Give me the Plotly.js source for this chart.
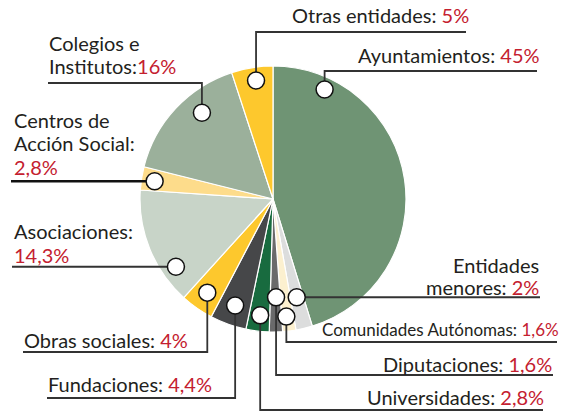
<!DOCTYPE html>
<html>
<head>
<meta charset="utf-8">
<script src="https://cdn.plot.ly/plotly-3.0.1.min.js"></script>
<style>
  html, body { margin: 0; padding: 0; background: #fff; }
  #chart { width: 569px; height: 412px; }
</style>
</head>
<body>
<div id="chart"></div>
<script>
// slices, clockwise from 12 o'clock
const names = ["Ayuntamientos", "Entidades menores", "Comunidades Autónomas", "Diputaciones",
  "Universidades", "Fundaciones", "Obras sociales", "Asociaciones",
  "Centros de Acción Social", "Colegios e Institutos", "Otras entidades"];
const values = [45, 2, 1.6, 1.6, 2.8, 4.4, 4, 14.3, 2.8, 16, 5];
const pctLabels = ["45%", "2%", "1,6%", "1,6%", "2,8%", "4,4%", "4%", "14,3%", "2,8%", "16%", "5%"];
const colors = ["#6f9474", "#dcdddd", "#fcf0cf", "#6a6a6b", "#186b3f", "#464749",
  "#fdc82d", "#c8d4c8", "#fddc8b", "#9bb09b", "#fdc82d"];

const W = 569, H = 412;
const cx = 273, cy = 199, R = 133;
const RED = "#c4202f", INK = "#231f20", LINE = "#333333";

// where each callout dot sits: fraction along the slice, fraction of radius
const dotAt = [[0.155, 0.91], [0.5, 0.76], [0.6, 0.89], [0.41, 0.74], [0.46, 0.88], [0.49, 0.85],
  [0.51, 0.86], [0.25, 0.89], [0.46, 0.9], [0.63, 0.84], [0.55, 0.9]];

// label layout: text lines (last gets the red value), anchor x, baselines, leader elbow
const labels = [
  { lines: ["Ayuntamientos: "], x: 541, ys: [62], align: "right", elbow: 71, endX: 537 },
  { lines: ["Entidades", "menores: "], x: 540, ys: [272, 294], align: "right", endX: 540 },
  { lines: ["Comunidades Autónomas: "], x: 560, ys: [336], align: "right", elbow: 342, endX: 557, size: 17 },
  { lines: ["Diputaciones: "], x: 553, ys: [371], align: "right", elbow: 375, endX: 553 },
  { lines: ["Universidades: "], x: 545, ys: [404], align: "right", elbow: 410, endX: 543 },
  { lines: ["Fundaciones: "], x: 47, ys: [391], align: "left", elbow: 398, endX: 47 },
  { lines: ["Obras sociales: "], x: 23, ys: [347], align: "left", elbow: 352, endX: 23 },
  { lines: ["Asociaciones:", ""], x: 13, ys: [238, 262], align: "left", endX: 12 },
  { lines: ["Centros de", "Acción Social:", ""], x: 13, ys: [127, 150, 174], align: "left", endX: 11, thick: true },
  { lines: ["Colegios e", "Institutos:"], x: 48, ys: [50, 73], align: "left", elbow: 83, endX: 48 },
  { lines: ["Otras entidades: "], x: 470, ys: [22], align: "right", elbow: 32, endX: 466 }
];

const px = x => x / W;
const py = y => 1 - y / H;

const total = values.reduce((a, b) => a + b, 0);
let acc = 0;
const shapes = [];
const dots = [];
const annotations = [];

values.forEach((v, i) => {
  const a0 = acc / total * 2 * Math.PI;
  acc += v;
  const a1 = acc / total * 2 * Math.PI;
  const a = a0 + dotAt[i][0] * (a1 - a0);
  const r = dotAt[i][1] * R;
  const dx = cx + r * Math.sin(a);
  const dy = cy - r * Math.cos(a);
  const lab = labels[i];

  let path;
  if (lab.elbow !== undefined) {
    path = `M${px(dx)},${py(dy)} L${px(dx)},${py(lab.elbow)} L${px(lab.endX)},${py(lab.elbow)}`;
  } else {
    path = `M${px(dx)},${py(dy)} L${px(lab.endX)},${py(dy)}`;
  }
  shapes.push({
    type: "path", xref: "paper", yref: "paper", path: path,
    line: { color: lab.thick ? "#111" : LINE, width: lab.thick ? 2.5 : 1.8 }
  });
  const cr = 8.5;
  dots.push({
    type: "circle", xref: "paper", yref: "paper",
    x0: px(dx - cr), x1: px(dx + cr), y0: py(dy + cr), y1: py(dy - cr),
    fillcolor: "#ffffff", line: { color: "#111", width: 1.5 }
  });

  const size = lab.size || 20;
  lab.lines.forEach((t, k) => {
    let txt = t;
    if (k === lab.lines.length - 1) txt += `<span style="color:${RED}">${pctLabels[i]}</span>`;
    annotations.push({
      xref: "paper", yref: "paper", x: px(lab.x), y: py(lab.ys[k] - size * 0.37),
      xanchor: lab.align, yanchor: "middle", showarrow: false, borderpad: 0,
      text: txt, font: { family: "Lato, 'Open Sans', sans-serif", size: size, color: INK }
    });
  });
});

const data = [{
  type: "pie",
  labels: names,
  values: values,
  sort: false,
  direction: "clockwise",
  rotation: 0,
  textinfo: "none",
  hoverinfo: "label+percent",
  marker: { colors: colors, line: { color: "#ffffff", width: 1.2 } },
  domain: { x: [px(cx - R), px(cx + R)], y: [py(cy + R), py(cy - R)] }
}];

const layout = {
  width: W, height: H,
  margin: { l: 0, r: 0, t: 0, b: 0 },
  paper_bgcolor: "#ffffff",
  showlegend: false,
  shapes: shapes.concat(dots),
  annotations: annotations
};

Plotly.newPlot("chart", data, layout, { displayModeBar: false, staticPlot: true });
</script>
</body>
</html>
